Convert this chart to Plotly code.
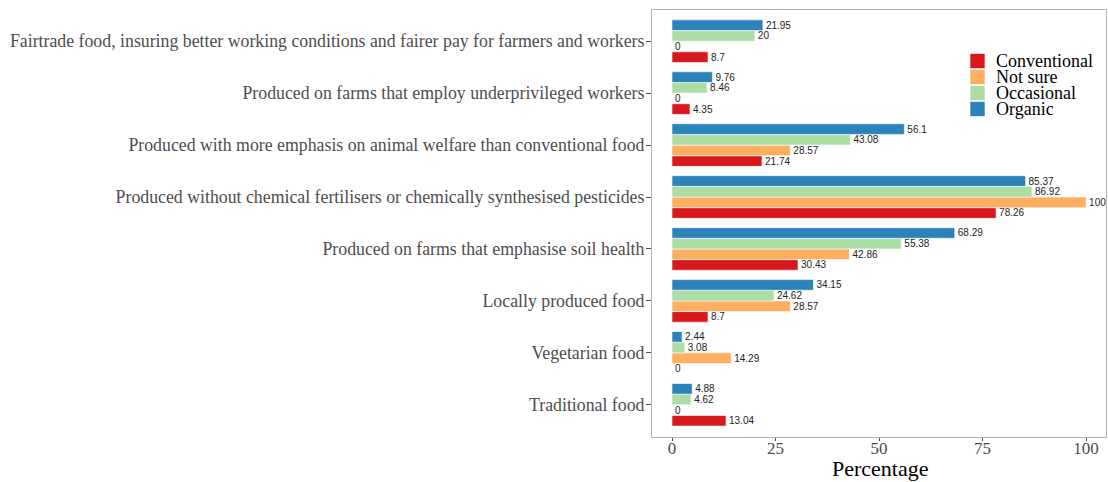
import plotly.graph_objects as go

categories = [
    "Traditional food",
    "Vegetarian food",
    "Locally produced food",
    "Produced on farms that emphasise soil health",
    "Produced without chemical fertilisers or chemically synthesised pesticides",
    "Produced with more emphasis on animal welfare than conventional food",
    "Produced on farms that employ underprivileged workers",
    "Fairtrade food, insuring better working conditions and fairer pay for farmers and workers",
]
conventional = [13.04, 0, 8.7, 30.43, 78.26, 21.74, 4.35, 8.7]
not_sure = [0, 14.29, 28.57, 42.86, 100, 28.57, 0, 0]
occasional = [4.62, 3.08, 24.62, 55.38, 86.92, 43.08, 8.46, 20]
organic = [4.88, 2.44, 34.15, 68.29, 85.37, 56.1, 9.76, 21.95]
x_ticks = [0, 25, 50, 75, 100]

series = [
    ("Conventional", conventional, "#d7191c"),
    ("Not sure", not_sure, "#fdae61"),
    ("Occasional", occasional, "#abdda4"),
    ("Organic", organic, "#2b83ba"),
]

W, H = 1108, 482
L, R, T, B = 652, 1106, 10, 437


def px_x(p):
    return (p - L) / (R - L)


def px_y(p):
    return (B - p) / (B - T)


fig = go.Figure()
for name, vals, col in series:
    fig.add_trace(go.Bar(
        y=categories, x=vals, name=name, orientation="h",
        marker=dict(color=col, line=dict(color="rgba(255,255,255,0.6)", width=1)),
        text=[f"{v:g}" for v in vals], textposition="outside",
        constraintext="none",
        textfont=dict(family="Liberation Sans, Arial", size=10, color="#222222"),
        cliponaxis=False, showlegend=False,
    ))

# manual legend (tight spacing like the reference)
shapes = []
annotations = []
for i, (name, vals, col) in enumerate(series):
    cy = 61 + i * 16
    shapes.append(dict(
        type="rect", xref="paper", yref="paper",
        x0=px_x(970), x1=px_x(985), y0=px_y(cy + 7.5), y1=px_y(cy - 7.5),
        fillcolor=col, line=dict(color="rgba(255,255,255,0.6)", width=1),
    ))
    annotations.append(dict(
        xref="paper", yref="paper", x=px_x(994), y=px_y(cy),
        xanchor="left", yanchor="middle", text=name, showarrow=False,
        font=dict(family="Liberation Serif, Times New Roman", size=18, color="black"),
    ))

annotations.append(dict(
    xref="paper", yref="paper", x=px_x(880), y=px_y(468),
    xanchor="center", yanchor="middle", text="Percentage", showarrow=False,
    font=dict(family="Liberation Serif, Times New Roman", size=22, color="black"),
))

fig.update_layout(
    width=W, height=H,
    margin=dict(l=L, r=W - R, t=T, b=H - B, autoexpand=False),
    barmode="group", bargap=0.18, bargroupgap=0,
    plot_bgcolor="white", paper_bgcolor="white",
    font=dict(family="Liberation Serif, Times New Roman", color="#4d4d4d"),
    showlegend=False,
    shapes=shapes, annotations=annotations,
    xaxis=dict(
        range=[-4.83, 104.8], tickvals=x_ticks,
        tickfont=dict(size=17, color="#4d4d4d"),
        showgrid=False, zeroline=False, automargin=False,
        showline=True, mirror=True, linecolor="#b3b3b3", linewidth=1,
        ticks="outside", ticklen=3, tickcolor="#4d4d4d",
        ticklabelstandoff=-7,
    ),
    yaxis=dict(
        range=[-0.62, 7.6],
        tickfont=dict(size=17.8, color="#4d4d4d"),
        showgrid=False, zeroline=False, automargin=False,
        showline=True, mirror=True, linecolor="#b3b3b3", linewidth=1,
        ticks="outside", ticklen=5, tickcolor="#4d4d4d",
        ticklabelstandoff=-2,
    ),
)

# remove the default page margin so the figure sits at the window's corner
fig.write_html(
    "out.html",
    config={"displayModeBar": False},
    post_script="document.body.style.margin='0';document.body.style.overflow='hidden';",
)
